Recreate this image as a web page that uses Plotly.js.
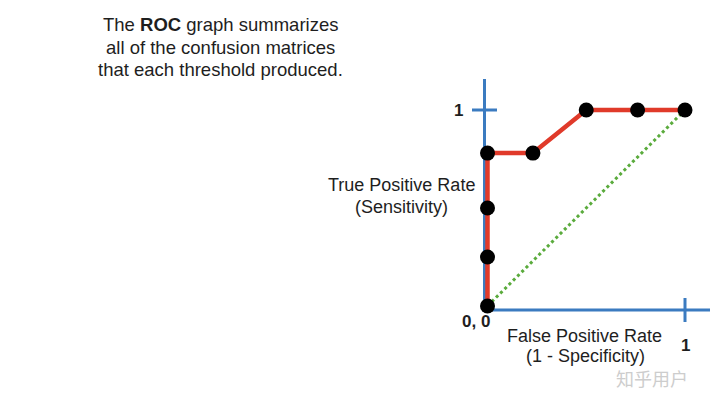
<!DOCTYPE html>
<html>
<head>
<meta charset="utf-8">
<script src="https://cdn.plot.ly/plotly-3.0.1.min.js"></script>
<style>html,body{margin:0;padding:0;background:#fff;}#chart{width:720px;height:398px;}</style>
</head>
<body>
<div id="chart"></div>
<script>
// ---- data ----
const fpr = [0, 0, 0, 0, 0.23, 0.5, 0.76, 1];          // False Positive Rate of each threshold
const tpr = [0, 0.25, 0.5, 0.78, 0.78, 1, 1, 1];       // True Positive Rate of each threshold
const diagX = [0, 1];                                  // random-guess line
const diagY = [0, 1];
const titleLines = ["The <b>ROC</b> graph summarizes", "all of the confusion matrices", "that each threshold produced."];
const yLabelLines = ["True Positive Rate", "(Sensitivity)"];
const xLabelLines = ["False Positive Rate", "(1 - Specificity)"];
const yTickLabel = "1";
const xTickLabel = "1";
const originLabel = "0, 0";
const watermark = "知乎用户";

// ---- layout helpers (pixel -> paper) ----
const W = 720, H = 398;
const px = x => x / W;
const py = y => 1 - y / H;
// axis scale: x=0 at 487.5px, x=1 at 685px; y=0 at 306px, y=1 at 110px
const X0 = 487.5, XS = 197.5, Y0 = 306, YS = 196;
const dx = p => (p - X0) / XS;
const dy = p => (Y0 - p) / YS;

const FONT = "Liberation Sans, Arial, Helvetica, sans-serif";
const TXT = "#1e1e1e";
const BLUE = "#3b7bc0";
const RED = "#e03a2a";
const GREEN = "#5aab3c";

const traces = [
  { x: diagX, y: diagY, type: "scatter", mode: "lines",
    line: { color: GREEN, width: 3, dash: "dot" }, hoverinfo: "skip" },
  { x: fpr, y: tpr, type: "scatter", mode: "lines",
    line: { color: RED, width: 4.5 }, hoverinfo: "skip" },
  { x: fpr, y: tpr, type: "scatter", mode: "markers",
    marker: { color: "#000", size: 15 }, hoverinfo: "skip" }
];

const ann = [];
function addText(text, cx, cy, size, opts) {
  ann.push(Object.assign({
    text: text, xref: "paper", yref: "paper", x: px(cx), y: py(cy),
    xanchor: "center", yanchor: "middle", showarrow: false,
    font: { family: FONT, size: size, color: TXT }
  }, opts || {}));
}
const titleY = [25, 47, 69];
titleLines.forEach((t, i) => addText(t, 220, titleY[i], 18.5));
addText(yLabelLines[0], 401, 185, 18);
addText(yLabelLines[1], 401.5, 207.5, 18);
addText(xLabelLines[0], 584.5, 335.5, 18);
addText(xLabelLines[1], 585, 356, 18);
addText("<b>" + yTickLabel + "</b>", 458.5, 111, 17);
addText("<b>" + xTickLabel + "</b>", 685, 345, 17);
addText("<b>" + originLabel + "</b>", 475.5, 321, 17);
addText(watermark, 652, 378, 18, { font: { family: "Noto Sans CJK SC, sans-serif", size: 18, color: "#cdcdcd" } });

const shapes = [
  // y axis line
  { type: "line", xref: "x", yref: "y", x0: dx(484.5), x1: dx(484.5), y0: dy(311), y1: dy(79),
    line: { color: BLUE, width: 3 }, layer: "below" },
  // x axis line
  { type: "line", xref: "x", yref: "y", x0: dx(483), x1: dx(710), y0: dy(310), y1: dy(310),
    line: { color: BLUE, width: 3 }, layer: "below" },
  // tick at y = 1
  { type: "line", xref: "x", yref: "y", x0: dx(472), x1: dx(497), y0: 1, y1: 1,
    line: { color: BLUE, width: 3 }, layer: "below" },
  // tick at x = 1
  { type: "line", xref: "x", yref: "y", x0: 1, x1: 1, y0: dy(298), y1: dy(322),
    line: { color: BLUE, width: 3 }, layer: "below" }
];

const layout = {
  width: W, height: H, autosize: false,
  margin: { l: 0, r: 0, t: 0, b: 0, pad: 0 },
  paper_bgcolor: "#fff", plot_bgcolor: "#fff",
  showlegend: false,
  xaxis: { range: [dx(0), dx(W)], visible: false, fixedrange: true },
  yaxis: { range: [dy(H), dy(0)], visible: false, fixedrange: true },
  annotations: ann,
  shapes: shapes
};

Plotly.newPlot("chart", traces, layout, { displayModeBar: false, staticPlot: true });
</script>
</body>
</html>
